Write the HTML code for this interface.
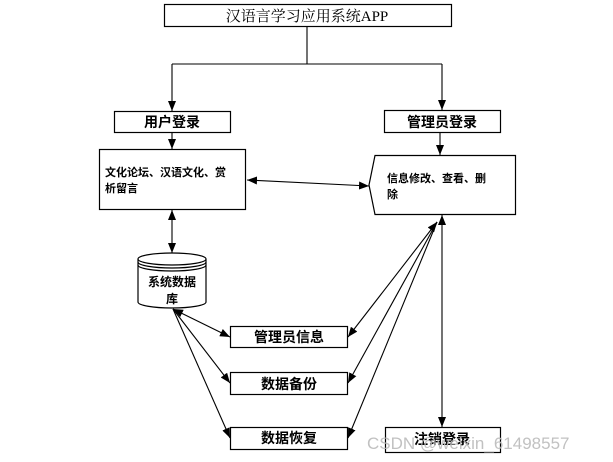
<!DOCTYPE html>
<html><head><meta charset="utf-8"><style>
html,body{margin:0;padding:0;background:#fff;}
svg{display:block;}
text{font-family:"Liberation Serif","Noto Serif CJK SC","Noto Sans CJK SC",serif;fill:#000;}
.b{font-family:"Liberation Sans","Noto Sans CJK SC",sans-serif;font-weight:bold;}
</style></head><body>
<svg width="613" height="462" viewBox="0 0 613 462" xmlns="http://www.w3.org/2000/svg">
<defs>
<marker id="a" markerWidth="10" markerHeight="8" refX="10" refY="4" orient="auto-start-reverse" markerUnits="userSpaceOnUse">
<path d="M0,0 L10,4 L0,8 z" fill="#000"/></marker>
</defs>
<g stroke="#000" stroke-width="1.2" fill="#fff">
<rect x="164.5" y="4.5" width="287" height="22"/>
<rect x="114.5" y="111.5" width="116" height="21"/>
<rect x="384.5" y="110.5" width="116" height="22"/>
<rect x="99.5" y="149.5" width="146" height="60"/>
<path d="M375,155.5 L515.5,155.5 L515.5,214.5 L375,214.5 L369,185 Z"/>
<rect x="230.5" y="326.5" width="117" height="21"/>
<rect x="230.5" y="372.5" width="117" height="22"/>
<rect x="230.5" y="427.5" width="117" height="22"/>
<rect x="385.5" y="427.5" width="115" height="25"/>
<path d="M138,259 L138,302 A34,6 0 0 0 206,302 L206,259"/>
<ellipse cx="172" cy="259" rx="34" ry="6"/>
<path d="M138,262 A34,6 0 0 0 206,262 M138,265 A34,6 0 0 0 206,265" fill="none"/>
</g>
<g stroke="#000" stroke-width="1.1" fill="none">
<path d="M307,26 V64 M172,64 H442"/>
<line x1="172" y1="64" x2="172" y2="111" marker-end="url(#a)"/>
<line x1="442" y1="64" x2="442" y2="110" marker-end="url(#a)"/>
<line x1="172" y1="132" x2="172" y2="149" marker-end="url(#a)"/>
<line x1="440" y1="132" x2="440" y2="155" marker-end="url(#a)"/>
<line x1="247" y1="180" x2="369" y2="186" marker-start="url(#a)" marker-end="url(#a)"/>
<line x1="172" y1="210" x2="172" y2="253" marker-start="url(#a)" marker-end="url(#a)"/>
<line x1="442" y1="215" x2="442" y2="427" marker-start="url(#a)" marker-end="url(#a)"/>
<line x1="437" y1="222" x2="348" y2="337" marker-start="url(#a)" marker-end="url(#a)"/>
<line x1="437" y1="222" x2="348" y2="383" marker-end="url(#a)"/>
<line x1="437" y1="222" x2="348" y2="438" marker-end="url(#a)"/>
<line x1="173" y1="309" x2="230" y2="337" marker-start="url(#a)" marker-end="url(#a)"/>
<line x1="173" y1="309" x2="230" y2="383" marker-end="url(#a)"/>
<line x1="173" y1="309" x2="230" y2="438" marker-end="url(#a)"/>
</g>
<text x="307" y="21" font-size="15" text-anchor="middle">汉语言学习应用系统APP</text>
<text class="b" x="172" y="127" font-size="14" text-anchor="middle">用户登录</text>
<text class="b" x="442" y="127" font-size="14" text-anchor="middle">管理员登录</text>
<text class="b" x="105" y="176" font-size="11">文化论坛、汉语文化、赏</text>
<text class="b" x="105" y="192" font-size="11">析留言</text>
<text class="b" x="387" y="182" font-size="11">信息修改、查看、删</text>
<text class="b" x="387" y="198" font-size="11">除</text>
<text class="b" x="172" y="286" font-size="12" text-anchor="middle">系统数据</text>
<text class="b" x="172" y="303" font-size="12" text-anchor="middle">库</text>
<text class="b" x="289" y="342" font-size="14" text-anchor="middle">管理员信息</text>
<text class="b" x="289" y="389" font-size="14" text-anchor="middle">数据备份</text>
<text class="b" x="289" y="443" font-size="14" text-anchor="middle">数据恢复</text>
<text class="b" x="442" y="444" font-size="14" text-anchor="middle">注销登录</text>
<text x="367" y="449" font-size="17" style="font-family:'Liberation Sans',sans-serif;fill:#bbb;opacity:0.9">CSDN @weixin_61498557</text>
</svg>
</body></html>
